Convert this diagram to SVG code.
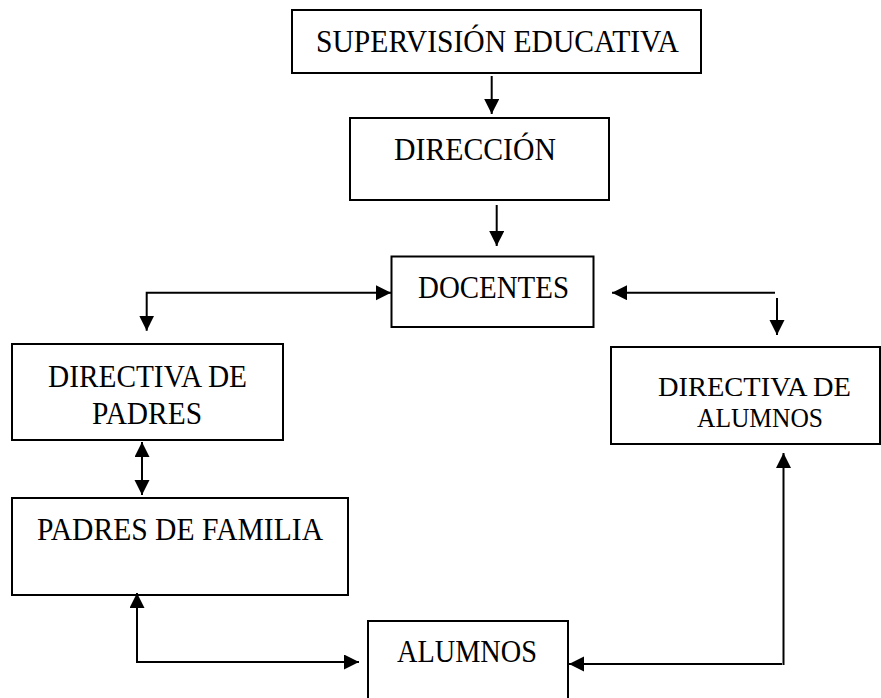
<svg xmlns="http://www.w3.org/2000/svg" width="881" height="698" viewBox="0 0 881 698">
<style>
.box{fill:#fff;stroke:#000;stroke-width:2}
.t{font-family:"Liberation Serif","Times New Roman",serif;font-size:32px;fill:#000;text-anchor:middle}
.s{font-size:28px}
.c{fill:none;stroke:#000;stroke-width:2}
</style>
<defs>
<marker id="ah" markerUnits="userSpaceOnUse" markerWidth="16" markerHeight="16" refX="15" refY="7.5" orient="auto-start-reverse" viewBox="0 0 16 16">
<path d="M0,0 L15,7.5 L0,15 Z" fill="#000"/>
</marker>
</defs>
<rect width="881" height="698" fill="#fff"/>
<g id="supervision">
<rect class="box" x="292" y="10" width="409" height="63"/>
<text class="t" x="497.5" y="52" textLength="363" lengthAdjust="spacingAndGlyphs">SUPERVISIÓN EDUCATIVA</text>
</g>
<g id="direccion">
<rect class="box" x="350" y="118" width="259" height="82"/>
<text class="t" x="475" y="160" textLength="162" lengthAdjust="spacingAndGlyphs">DIRECCIÓN</text>
</g>
<g id="docentes">
<rect class="box" x="391.5" y="256.5" width="202" height="70.5"/>
<text class="t" x="493.5" y="298" textLength="151" lengthAdjust="spacingAndGlyphs">DOCENTES</text>
</g>
<g id="directiva-padres">
<rect class="box" x="12" y="344" width="271" height="96"/>
<text class="t" x="147.5" y="387" textLength="199" lengthAdjust="spacingAndGlyphs">DIRECTIVA DE</text>
<text class="t" x="147" y="424" textLength="110" lengthAdjust="spacingAndGlyphs">PADRES</text>
</g>
<g id="directiva-alumnos">
<rect class="box" x="611" y="347" width="269" height="97"/>
<text class="t s" x="754.5" y="396" textLength="193" lengthAdjust="spacingAndGlyphs">DIRECTIVA DE</text>
<text class="t s" x="760" y="427" textLength="126" lengthAdjust="spacingAndGlyphs">ALUMNOS</text>
</g>
<g id="padres-familia">
<rect class="box" x="12" y="498" width="336" height="97"/>
<text class="t" x="180" y="540" textLength="286" lengthAdjust="spacingAndGlyphs">PADRES DE FAMILIA</text>
</g>
<g id="alumnos">
<rect class="box" x="368" y="621" width="200" height="90"/>
<text class="t" x="467" y="662" textLength="140" lengthAdjust="spacingAndGlyphs">ALUMNOS</text>
</g>
<g id="connectors">
<path class="c" d="M491.7,76 L491.7,114" marker-end="url(#ah)"/>
<path class="c" d="M496.7,205 L496.7,246" marker-end="url(#ah)"/>
<path class="c" d="M146.7,330.7 L146.7,292.7 L391,292.7" marker-start="url(#ah)" marker-end="url(#ah)"/>
<path class="c" d="M775,292.7 L612,292.7" marker-end="url(#ah)"/>
<path class="c" d="M777,298 L777,335" marker-end="url(#ah)"/>
<path class="c" d="M142,442 L142,495" marker-start="url(#ah)" marker-end="url(#ah)"/>
<path class="c" d="M137,593 L137,662 L359,662" marker-start="url(#ah)" marker-end="url(#ah)"/>
<path class="c" d="M783.5,665 L783.5,453" marker-end="url(#ah)"/>
<path class="c" d="M782,664 L569,664" marker-end="url(#ah)"/>
</g>
</svg>
